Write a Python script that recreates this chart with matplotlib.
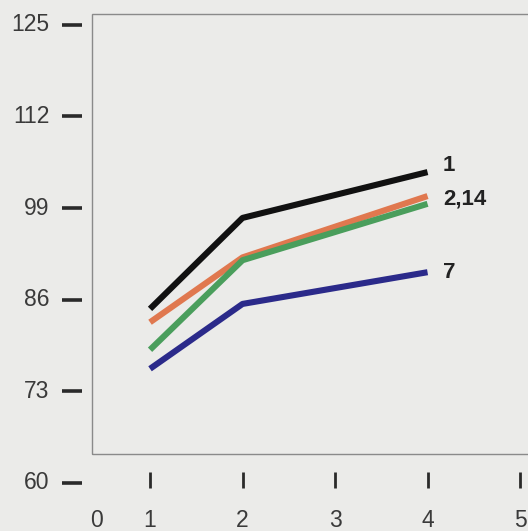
import matplotlib.pyplot as plt
from matplotlib.patches import Rectangle

# data
x_vals = [1, 2, 4]
series_1 = [84.7, 97.6, 104.1]
series_2 = [82.8, 92.0, 100.7]
series_14 = [78.9, 91.6, 99.6]
series_7 = [76.2, 85.4, 89.9]

y_ticks = [60, 73, 86, 99, 112, 125]
x_ticks = [1, 2, 3, 4, 5]

BG = "#ebebe9"

fig = plt.figure(figsize=(5.28, 5.31), dpi=100, facecolor=BG)
ax = fig.add_axes([0, 0, 1, 1])
ax.set_facecolor(BG)
ax.set_xlim(-0.622, 5.086)
ax.set_ylim(53.19, 128.51)
ax.axis("off")

# frame box
ax.add_patch(Rectangle((0.373, 64.1), 5.0, 62.4, fill=False,
                       edgecolor="#8a8a8a", linewidth=1.0))

# y ticks (dashes) and labels
for v in y_ticks:
    ax.plot([0.049, 0.265], [v, v], color="#2a2a2a", linewidth=2.6,
            solid_capstyle="butt", clip_on=False)
    ax.text(-0.09, v, str(v), ha="right", va="center", fontsize=16.5,
            family="Liberation Sans", color="#3a3a3a")

# x ticks and labels
for v in x_ticks:
    ax.plot([v, v], [59.3, 61.6], color="#2a2a2a", linewidth=2.0,
            solid_capstyle="butt", clip_on=False)
    ax.text(v, 54.75, str(v), ha="center", va="center", fontsize=16.5,
            family="Liberation Sans", color="#3a3a3a")
ax.text(0.416, 54.75, "0", ha="center", va="center", fontsize=16.5,
        family="Liberation Sans", color="#3a3a3a")

lw = 4.4
ax.plot(x_vals, series_1, color="#111111", linewidth=lw, solid_capstyle="butt")
ax.plot(x_vals, series_2, color="#e0784f", linewidth=lw, solid_capstyle="butt")
ax.plot(x_vals, series_14, color="#4a9e5c", linewidth=lw, solid_capstyle="butt")
ax.plot(x_vals, series_7, color="#2b2a8a", linewidth=lw, solid_capstyle="butt")

# end labels
lab = dict(textcoords="offset points", ha="left", va="center", fontsize=16,
           fontweight="bold", family="Liberation Sans", color="#222222")
ax.annotate("1", (x_vals[-1], series_1[-1]), xytext=(11, 5), **lab)
ax.annotate("2,14", (x_vals[-1], series_2[-1]), xytext=(11, -2), **lab)
ax.annotate("7", (x_vals[-1], series_7[-1]), xytext=(11, 0), **lab)

fig.savefig("out.png", dpi=100, facecolor=BG)
